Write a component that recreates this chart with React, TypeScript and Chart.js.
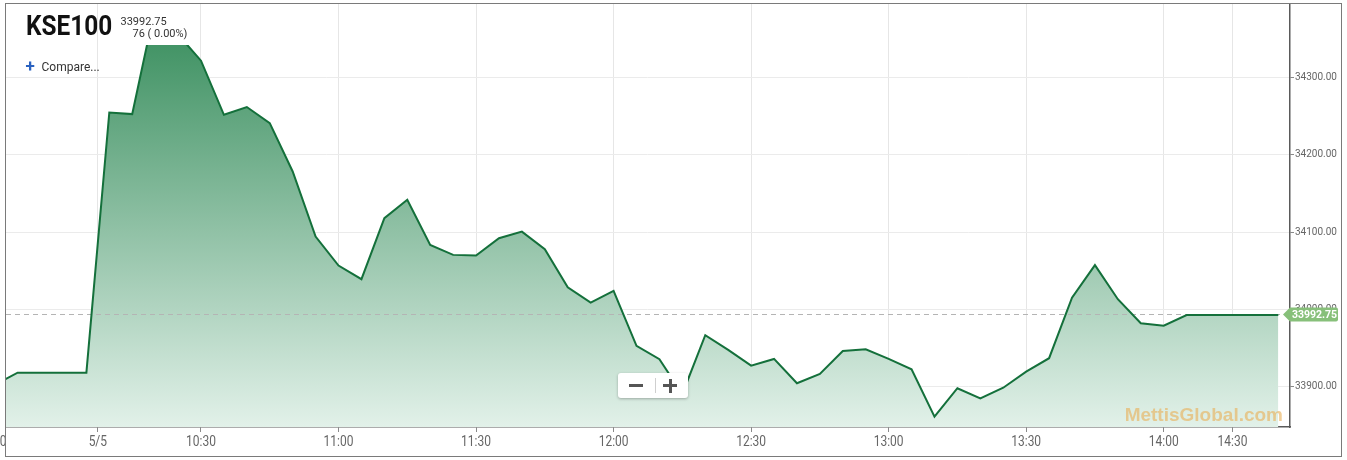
import React, { useEffect, useRef } from "react";
import { Chart, registerables } from "chart.js";

Chart.register(...registerables);

// ---- data ----
const symbolName = "KSE100";
const lastPriceText = "33992.75";
const changeText = "76 ( 0.00%)";
const compareText = "Compare...";
const watermarkText = "MettisGlobal.com";
const lastPrice = 33992.75;

// one value per 5-minute bar (index 0 is the previous session's last bar)
const closeValues = [
  33902.7, 33918.2, 33918.2, 33918.2, 33918.2, 34254.6, 34252.5, 34391.0, 34355.5, 34321.5,
  34251.6, 34261.6, 34240.9, 34178.3, 34094.2, 34056.7, 34039.1, 34118.0, 34141.7, 34083.4,
  34070.5, 34069.6, 34092.1, 34100.6, 34077.9, 34028.7, 34008.8, 34023.9, 33952.8, 33935.6,
  33890.7, 33966.6, 33947.6, 33927.3, 33936.0, 33904.5, 33916.6, 33946.3, 33948.5, 33936.0,
  33922.6, 33861.3, 33898.1, 33885.1, 33898.8, 33919.5, 33936.9, 34015.1, 34057.3, 34013.2,
  33982.1, 33979.0, 33992.75, 33992.75, 33992.75, 33992.75, 33992.75,
];

const xTickPositions = [-0.14, 4.5, 9, 15, 21, 27, 33, 39, 45, 51, 54];
const xTickLabels = ["15:30", "5/5", "10:30", "11:00", "11:30", "12:00", "12:30", "13:00", "13:30", "14:00", "14:30"];
const yTickValues = [33900, 34000, 34100, 34200, 34300];

const xMin = 0.493;
const xMax = 56.51;
const yMin = 33848;
const yMax = 34394.8;

const W = 1347;
const H = 460;

export default function App() {
  const canvasRef = useRef<HTMLCanvasElement | null>(null);

  useEffect(() => {
    const canvas = canvasRef.current;
    if (!canvas) return;

    const points = closeValues.map((v, i) => ({ x: i, y: v }));

    const overlay = {
      id: "overlay",
      afterDatasetDraw(chart: any, args: any) {
        if (args.index !== 1) return;
        const { ctx, chartArea } = chart;
        const y = Math.round(chart.scales.y.getPixelForValue(lastPrice)) - 0.5;
        ctx.save();
        ctx.strokeStyle = "#b4b4b4";
        ctx.lineWidth = 1;
        ctx.setLineDash([5, 4]);
        ctx.beginPath();
        ctx.moveTo(chartArea.left, y);
        ctx.lineTo(chartArea.right, y);
        ctx.stroke();
        ctx.restore();
      },
      afterDraw(chart: any) {
        const { ctx, chartArea } = chart;
        const xs = chart.scales.x;
        const yc = chart.scales.y.getPixelForValue(lastPrice);
        ctx.save();
        // condensed x tick labels
        ctx.fillStyle = "#666666";
        ctx.font = "15px Roboto, sans-serif";
        ctx.textAlign = "center";
        ctx.textBaseline = "alphabetic";
        const sx = 0.8;
        xTickPositions.forEach((p, i) => {
          const px = xs.getPixelForValue(p);
          ctx.save();
          ctx.translate(px, 445.5);
          ctx.scale(sx, 1);
          ctx.fillText(xTickLabels[i], 0, 0);
          ctx.restore();
        });
        // watermark
        ctx.font = "bold 19px 'Liberation Sans', Arial, sans-serif";
        ctx.fillStyle = "rgba(232, 176, 88, 0.62)";
        ctx.textAlign = "right";
        ctx.fillText(watermarkText, 1283, 421);
        // price tag
        const left = chartArea.right;
        const tip = left - 7;
        const right = 1338;
        const top = yc - 7.5;
        const bot = yc + 6.5;
        const r = 2;
        ctx.fillStyle = "#87c07a";
        ctx.beginPath();
        ctx.moveTo(tip, yc - 0.5);
        ctx.lineTo(left, top);
        ctx.lineTo(right - r, top);
        ctx.quadraticCurveTo(right, top, right, top + r);
        ctx.lineTo(right, bot - r);
        ctx.quadraticCurveTo(right, bot, right - r, bot);
        ctx.lineTo(left, bot);
        ctx.closePath();
        ctx.fill();
        ctx.fillStyle = "#ffffff";
        ctx.font = "bold 10.5px Roboto, sans-serif";
        ctx.textAlign = "center";
        ctx.textBaseline = "middle";
        ctx.fillText(lastPriceText, (left + right) / 2 + 0.5, yc);
        ctx.restore();
      },
    };

    const chart = new Chart(canvas, {
      type: "line",
      data: {
        datasets: [
          {
            label: "line",
            data: points,
            borderColor: "#14703b",
            borderWidth: 2,
            pointRadius: 0,
            tension: 0,
            fill: false,
            clip: { left: 0, top: -41, right: 0, bottom: 0 },
          } as any,
          {
            label: "area",
            data: points,
            borderWidth: 0,
            borderColor: "rgba(0,0,0,0)",
            pointRadius: 0,
            tension: 0,
            fill: "start",
            clip: { left: 0, top: -41, right: 0, bottom: 0 },
            backgroundColor: (c: any) => {
              const ca = c.chart.chartArea;
              if (!ca) return "rgba(60,140,95,0.5)";
              const g = c.chart.ctx.createLinearGradient(0, ca.top, 0, ca.bottom);
              g.addColorStop(0, "rgb(50,138,88)");
              g.addColorStop(1, "rgb(226,241,233)");
              return g;
            },
          } as any,
        ],
      },
      options: {
        animation: false,
        responsive: false,
        devicePixelRatio: 1,
        events: [],
        layout: { padding: { left: 6, top: 4, right: 0, bottom: 0 } },
        plugins: { legend: { display: false }, tooltip: { enabled: false } },
        scales: {
          x: {
            type: "linear",
            min: xMin,
            max: xMax,
            grid: { color: "#e6e6e6", tickLength: 5, tickColor: "#8a8a8a", drawOnChartArea: true },
            border: { color: "#5a5a5a", width: 1.5 },
            ticks: {
              display: false,
              autoSkip: false,
              maxRotation: 0,
              callback: (_v: any, i: number) => xTickLabels[i],
            },
            afterBuildTicks: (s: any) => {
              s.ticks = xTickPositions.map((v) => ({ value: v }));
            },
            afterFit: (s: any) => {
              s.height = 33;
              s.paddingLeft = 0;
              s.paddingRight = 0;
            },
          } as any,
          y: {
            type: "linear",
            position: "right",
            min: yMin,
            max: yMax,
            grid: { color: "#ebebeb", tickLength: 4, tickColor: "#8a8a8a" },
            border: { color: "#5a5a5a", width: 1.5 },
            ticks: {
              padding: 1,
              color: "#666666",
              font: { family: "Roboto, sans-serif", size: 10 },
              callback: (v: any) => Number(v).toFixed(2),
            },
            afterBuildTicks: (s: any) => {
              s.ticks = yTickValues.map((v) => ({ value: v }));
            },
            afterFit: (s: any) => {
              s.width = 57;
              s.paddingTop = 0;
              s.paddingBottom = 0;
            },
          } as any,
        },
      },
      plugins: [overlay],
    } as any);

    return () => chart.destroy();
  }, []);

  const abs = (o: any) => ({ position: "absolute" as const, ...o });

  return (
    <div style={abs({ left: 0, top: 0, width: W, height: H, background: "#ffffff", overflow: "hidden" })}>
      <canvas ref={canvasRef} width={W} height={H} style={abs({ left: 0, top: 0, width: W, height: H })} />
      <div
        style={abs({
          left: 5,
          top: 3,
          width: 1337,
          height: 454,
          boxSizing: "border-box",
          border: "1px solid #7a7a7a",
          pointerEvents: "none",
        })}
      />
      <div
        style={abs({
          left: 25.5,
          top: 11.5,
          fontFamily: "Roboto, sans-serif",
          fontWeight: 700,
          fontSize: 28,
          lineHeight: "28px",
          color: "#111111",
          whiteSpace: "nowrap",
          transform: "scaleX(0.87)",
          transformOrigin: "0 0",
        })}
      >
        {symbolName}
      </div>
      <div
        style={abs({
          left: 120.5,
          top: 15.7,
          fontFamily: "Roboto, sans-serif",
          fontSize: 11,
          lineHeight: "11px",
          color: "#333333",
          whiteSpace: "nowrap",
        })}
      >
        {lastPriceText}
      </div>
      <div
        style={abs({
          left: 132.5,
          top: 28.2,
          fontFamily: "Roboto, sans-serif",
          fontSize: 11,
          lineHeight: "11px",
          color: "#333333",
          whiteSpace: "pre",
        })}
      >
        {changeText}
      </div>
      <div
        style={abs({
          left: 25.5,
          top: 56,
          fontFamily: "Roboto, sans-serif",
          fontWeight: 700,
          fontSize: 17,
          lineHeight: "20px",
          color: "#2a62c0",
        })}
      >
        +
      </div>
      <div
        style={abs({
          left: 41.5,
          top: 60.9,
          fontFamily: "Roboto, sans-serif",
          fontSize: 12,
          lineHeight: "12px",
          color: "#333333",
          whiteSpace: "nowrap",
        })}
      >
        {compareText}
      </div>
      <div
        style={abs({
          left: 618,
          top: 373,
          width: 70,
          height: 25,
          background: "#ffffff",
          borderRadius: 3,
          boxShadow: "0 1px 3px rgba(0,0,0,0.28)",
        })}
      >
        <div style={abs({ left: 11, top: 11, width: 14, height: 3, background: "#555555" })} />
        <div style={abs({ left: 37, top: 5, width: 1, height: 15, background: "#cfcfcf" })} />
        <div style={abs({ left: 45, top: 11, width: 14, height: 3, background: "#555555" })} />
        <div style={abs({ left: 50.5, top: 5.5, width: 3, height: 14, background: "#555555" })} />
      </div>
    </div>
  );
}
